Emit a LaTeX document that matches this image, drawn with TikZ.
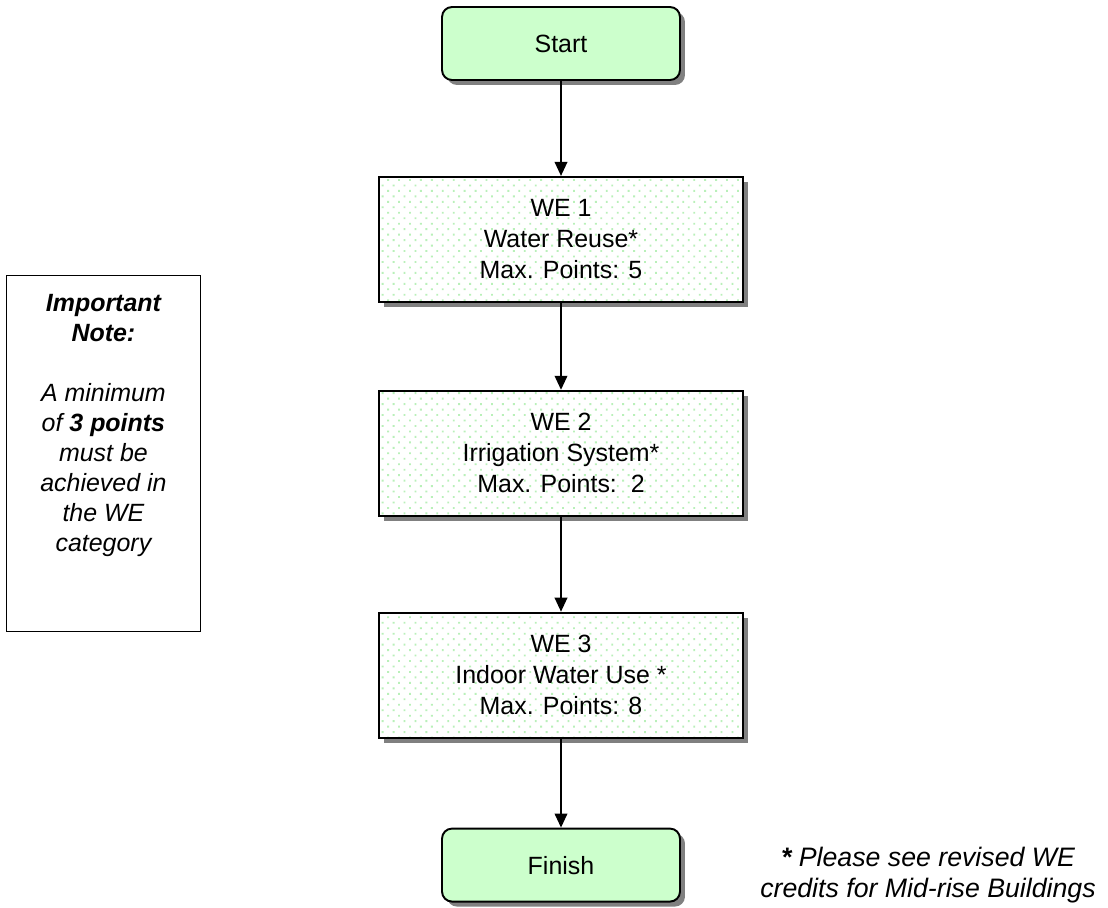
\documentclass[tikz,border=0pt]{standalone}
\usepackage{fontspec}
\setmainfont{Liberation Sans}
\usetikzlibrary{positioning,arrows.meta,shadows,patterns.meta}

\definecolor{termgreen}{RGB}{204,255,204}
\definecolor{dotgreen}{RGB}{185,240,185}
\definecolor{shadowgray}{RGB}{128,128,128}

\begin{document}
\begin{tikzpicture}[
  x=0.02cm, y=-0.02cm,
  term/.style={rectangle, draw, line width=1.1pt, rounded corners=0.2cm,
               drop shadow={shadow xshift=0.1cm, shadow yshift=-0.1cm,
                            opacity=1, fill=shadowgray},
               fill=termgreen, minimum width=4.76cm, minimum height=1.46cm,
               align=center},
  credit/.style={rectangle, draw, line width=1.1pt,
               drop shadow={shadow xshift=0.1cm, shadow yshift=-0.1cm,
                            opacity=1, fill=shadowgray},
               preaction={fill=white},
               pattern={Dots[distance=4.4pt, radius=0.75pt, angle=45]},
               pattern color=dotgreen,
               minimum width=7.28cm, minimum height=2.5cm, align=center},
  notebox/.style={rectangle, draw, line width=0.8pt, inner sep=0pt,
               font=\fontsize{14.2}{17.1}\selectfont\itshape},
  >={Triangle[length=0.28cm, width=0.25cm]}, line width=1.1pt,
  font=\fontsize{14.2}{17.6}\selectfont
]
  \useasboundingbox (0,0) rectangle (1108,907);

  \node[term] (start) at (561,43.5) {Start};
  \node[credit, below=1.9cm of start] (we1) {WE 1\\Water Reuse*\\Max. Points: 5};
  \node[credit, below=1.74cm of we1] (we2) {WE 2\\Irrigation System*\\Max. Points:\ \ 2};
  \node[credit, below=1.9cm of we2] (we3) {WE 3\\Indoor Water Use *\\Max. Points: 8};
  \node[term, below=1.78cm of we3] (finish) {Finish};

  \node[notebox, left=3.54cm of we2] (note) {\parbox[c][7.12cm][t]{3.88cm}{\centering
    \vspace*{0.38cm}\textbf{Important\\Note:}\\[17.1pt]
    A minimum\\of \textbf{3 points}\\must be\\achieved in\\the WE\\category}};

  \node[align=center, font=\fontsize{15.2}{17.3}\selectfont\itshape] (remark) at (928,875)
    {\textbf{*} Please see revised WE\\credits for Mid-rise Buildings};

  \draw[->] (start) -- (we1);
  \draw[->] (we1) -- (we2);
  \draw[->] (we2) -- (we3);
  \draw[->] (we3) -- (finish);
\end{tikzpicture}
\end{document}
